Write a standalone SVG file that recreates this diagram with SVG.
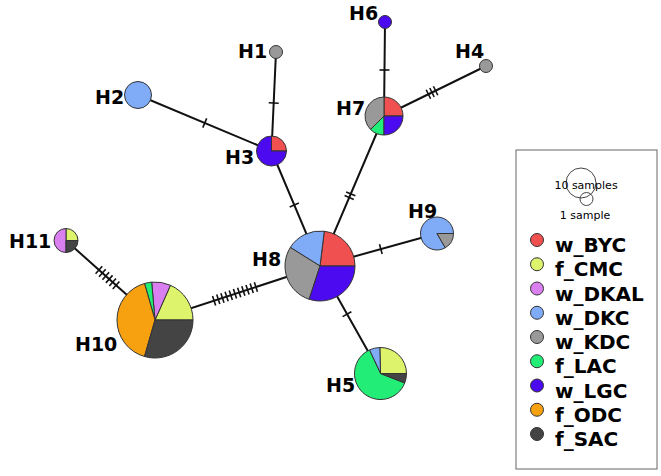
<svg xmlns="http://www.w3.org/2000/svg" width="661" height="476" viewBox="0 0 661 476">
<style>
.e{stroke:#111;stroke-width:2;fill:none}
.h{stroke:#111;stroke-width:1.6;fill:none}
.w path,.w circle{stroke:#333;stroke-width:1}
.byc{fill:#f0504f}.cmc{fill:#ddf36b}.dkal{fill:#d97ff0}.dkc{fill:#7fabf7}.kdc{fill:#999999}
.lac{fill:#22ee77}.lgc{fill:#4b0af0}.odc{fill:#f7a010}.sac{fill:#444444}
.lb{font-family:"DejaVu Sans",Verdana,sans-serif;font-weight:bold;font-size:19px;fill:#000}
.lg{font-family:"DejaVu Sans",Verdana,sans-serif;font-weight:bold;font-size:20px;fill:#000}
.sm{font-family:"DejaVu Sans",Verdana,sans-serif;font-size:11px;fill:#000;text-anchor:middle}
</style>
<rect width="661" height="476" fill="#fff"/>
<g id="edges">
<path class="e" d="M276 52L271.5 151M138 95L271.5 151M271.5 151L320 266M385 22L384 116M486 66L384 116M384 116L320 266M320 266L437 233.5M320 266L380.5 373.5M320 266L155 320M155 320L66 240.5"/>
<path class="h" d="M268.7 102.8L278.7 103.2"/>
<path class="h" d="M202.81 127.61L206.69 118.39"/>
<path class="h" d="M289.7 207L298.9 203.1"/>
<path class="h" d="M379.5 70L389.5 70"/>
<path class="h" d="M433.4 86.25L437.8 95.23M429.8 88.01L434.2 96.99M426.2 89.77L430.6 98.75"/>
<path class="h" d="M346.19 191.89L355.39 195.83M344.61 195.57L353.81 199.51"/>
<path class="h" d="M379.5 244.28L382.18 253.92"/>
<path class="h" d="M342.64 316.6L351.36 311.7"/>
<path class="h" d="M254.34 282.2L257.46 291.7M250.16 283.57L253.28 293.07M245.98 284.94L249.1 294.44M241.8 286.31L244.92 295.81M237.62 287.68L240.74 297.18M233.44 289.05L236.56 298.55M229.26 290.42L232.38 299.92M225.08 291.79L228.2 301.29M220.9 293.16L224.02 302.66M216.72 294.53L219.84 304.03M212.54 295.9L215.66 305.4"/>
<path class="h" d="M112.75 288.98L119.41 281.52M109.32 285.92L115.98 278.46M105.89 282.86L112.55 275.4M102.46 279.8L109.12 272.34M99.03 276.74L105.69 269.28M95.6 273.68L102.26 266.22"/>
</g>
<g id="H1" class="w"><circle class="kdc" cx="276" cy="52" r="6.5"/><text class="lb" x="238" y="58">H1</text></g>
<g id="H2" class="w"><circle class="dkc" cx="138" cy="95" r="13.5"/><text class="lb" x="95" y="104">H2</text></g>
<g id="H3" class="w">
<path class="byc" d="M271.5 151L286.5 151A15 15 0 0 0 271.5 136Z"/>
<path class="lgc" d="M271.5 151L271.5 136A15 15 0 1 0 286.5 151Z"/>
<text class="lb" x="225" y="164">H3</text></g>
<g id="H4" class="w"><circle class="kdc" cx="486" cy="66" r="6.5"/><text class="lb" x="455" y="58">H4</text></g>
<g id="H5" class="w">
<path class="cmc" d="M380.5 373.5L406.5 373.5A26 26 0 0 0 379.82 347.51Z"/>
<path class="dkc" d="M380.5 373.5L379.82 347.51A26 26 0 0 0 369.43 349.98Z"/>
<path class="lac" d="M380.5 373.5L369.43 349.98A26 26 0 1 0 404.72 382.95Z"/>
<path class="sac" d="M380.5 373.5L404.72 382.95A26 26 0 0 0 406.5 373.5Z"/>
<text class="lb" x="326" y="392">H5</text></g>
<g id="H6" class="w"><circle class="lgc" cx="385" cy="22" r="6.5"/><text class="lb" x="349" y="20">H6</text></g>
<g id="H7" class="w">
<path class="byc" d="M384 116L403 116A19 19 0 0 0 384 97Z"/>
<path class="kdc" d="M384 116L384 97A19 19 0 0 0 370.57 129.43Z"/>
<path class="lac" d="M384 116L370.57 129.43A19 19 0 0 0 384 135Z"/>
<path class="lgc" d="M384 116L384 135A19 19 0 0 0 403 116Z"/>
<text class="lb" x="336" y="115">H7</text></g>
<g id="H8" class="w">
<path class="byc" d="M320 266L355 266A35 35 0 0 0 324.27 231.26Z"/>
<path class="dkc" d="M320 266L324.27 231.26A35 35 0 0 0 290.32 247.45Z"/>
<path class="kdc" d="M320 266L290.32 247.45A35 35 0 0 0 309.18 299.29Z"/>
<path class="lgc" d="M320 266L309.18 299.29A35 35 0 0 0 355 266Z"/>
<text class="lb" x="252" y="266">H8</text></g>
<g id="H9" class="w">
<path class="dkc" d="M437 233.5L453.5 233.5A16.5 16.5 0 1 0 445.25 247.79Z"/>
<path class="kdc" d="M437 233.5L445.25 247.79A16.5 16.5 0 0 0 453.5 233.5Z"/>
<text class="lb" x="408" y="218">H9</text></g>
<g id="H10" class="w">
<path class="cmc" d="M155 320L193 320A38 38 0 0 0 170.46 285.29Z"/>
<path class="dkal" d="M155 320L170.46 285.29A38 38 0 0 0 151.69 282.14Z"/>
<path class="lac" d="M155 320L151.69 282.14A38 38 0 0 0 144.53 283.47Z"/>
<path class="odc" d="M155 320L144.53 283.47A38 38 0 0 0 144.53 356.53Z"/>
<path class="sac" d="M155 320L144.53 356.53A38 38 0 0 0 193 320Z"/>
<text class="lb" x="75" y="351">H10</text></g>
<g id="H11" class="w">
<path class="cmc" d="M66 240.5L78 240.5A12 12 0 0 0 66 228.5Z"/>
<path class="dkal" d="M66 240.5L66 228.5A12 12 0 0 0 66 252.5Z"/>
<path class="sac" d="M66 240.5L66 252.5A12 12 0 0 0 78 240.5Z"/>
<text class="lb" x="9" y="248">H11</text></g>
<g id="legend">
<rect x="516" y="150" width="141" height="319" fill="#fff" stroke="#666" stroke-width="1"/>
<circle cx="581" cy="183" r="15" fill="none" stroke="#444" stroke-width="1"/>
<circle cx="586.5" cy="199" r="6.5" fill="none" stroke="#444" stroke-width="1"/>
<text class="sm" x="586" y="189">10 samples</text>
<text class="sm" x="585" y="219">1 sample</text>
<g class="w">
<circle class="byc" cx="537" cy="240" r="6.5"/>
<circle class="cmc" cx="537" cy="264.25" r="6.5"/>
<circle class="dkal" cx="537" cy="288.5" r="6.5"/>
<circle class="dkc" cx="537" cy="312.75" r="6.5"/>
<circle class="kdc" cx="537" cy="337" r="6.5"/>
<circle class="lac" cx="537" cy="361.25" r="6.5"/>
<circle class="lgc" cx="537" cy="385.5" r="6.5"/>
<circle class="odc" cx="537" cy="409.75" r="6.5"/>
<circle class="sac" cx="537" cy="434" r="6.5"/>
</g>
<text class="lg" x="555" y="252">w_BYC</text>
<text class="lg" x="555" y="276.25">f_CMC</text>
<text class="lg" x="555" y="300.5">w_DKAL</text>
<text class="lg" x="555" y="324.75">w_DKC</text>
<text class="lg" x="555" y="349">w_KDC</text>
<text class="lg" x="555" y="373.25">f_LAC</text>
<text class="lg" x="555" y="397.5">w_LGC</text>
<text class="lg" x="555" y="421.75">f_ODC</text>
<text class="lg" x="555" y="446">f_SAC</text>
</g>
</svg>
